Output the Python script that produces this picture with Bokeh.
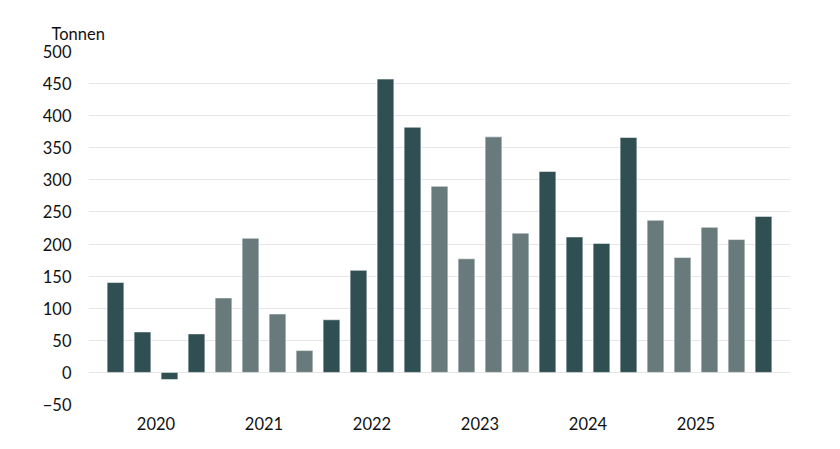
from bokeh.plotting import figure
from bokeh.models import ColumnDataSource, FixedTicker, Range1d, Title
from bokeh.embed import file_html
from bokeh.resources import INLINE

# quarterly values, 2020 Q1 .. 2026 Q1
quarters = ["2020 Q1", "2020 Q2", "2020 Q3", "2020 Q4",
            "2021 Q1", "2021 Q2", "2021 Q3", "2021 Q4",
            "2022 Q1", "2022 Q2", "2022 Q3", "2022 Q4",
            "2023 Q1", "2023 Q2", "2023 Q3", "2023 Q4",
            "2024 Q1", "2024 Q2", "2024 Q3", "2024 Q4",
            "2025 Q1", "2025 Q2", "2025 Q3", "2025 Q4",
            "2026 Q1"]
tonnes = [140, 63, -11, 60,
          116, 209, 91, 34,
          82, 159, 457, 382,
          290, 177, 367, 217,
          313, 211, 201, 366,
          237, 179, 226, 207,
          243]
years = ["2020", "2021", "2022", "2023", "2024", "2025"]

DARK = "#2f4f53"
GREY = "#687a7b"
FONT = "Lato"
TXT = "#111111"

xs = list(range(len(tonnes)))
colors = [DARK if int(q[:4]) % 2 == 0 else GREY for q in quarters]
src = ColumnDataSource(data=dict(x=xs, q=quarters, v=tonnes, c=colors))

p = figure(width=828, height=441, output_backend="svg", toolbar_location=None,
           x_range=Range1d(-1, 25), y_range=Range1d(-50, 500),
           min_border_left=88, min_border_right=38, min_border_top=51, min_border_bottom=37)
p.outline_line_color = None

p.vbar(x="x", top="v", bottom=0, width=0.62, source=src,
       fill_color="c", line_color="white", line_alpha=0.5, line_width=1)

p.xgrid.grid_line_color = None
p.ygrid.grid_line_color = "#e6e6e6"
p.ygrid.grid_line_width = 1
p.ygrid.ticker = FixedTicker(ticks=list(range(-50, 501, 50)))

p.yaxis.ticker = FixedTicker(ticks=list(range(-50, 501, 50)))
p.yaxis.major_label_overrides = {-50: "\u221250"}
p.xaxis.ticker = FixedTicker(ticks=[1.5 + 4 * i for i in range(len(years))])
p.xaxis.major_label_overrides = {1.5 + 4 * i: y for i, y in enumerate(years)}

for ax in (p.xaxis, p.yaxis):
    ax.axis_line_color = None
    ax.major_tick_line_color = None
    ax.minor_tick_line_color = None
    ax.major_label_text_font = FONT
    ax.major_label_text_font_size = "16.5px"
    ax.major_label_text_color = TXT
p.yaxis.major_label_standoff = 11
p.xaxis.major_label_standoff = 6

unit = Title(text="Tonnen", align="left", offset=-37, standoff=16,
             text_font=FONT, text_font_size="16.5px", text_font_style="normal",
             text_color=TXT)
p.add_layout(unit, "above")

open("out.html", "w").write(file_html(p, INLINE))
